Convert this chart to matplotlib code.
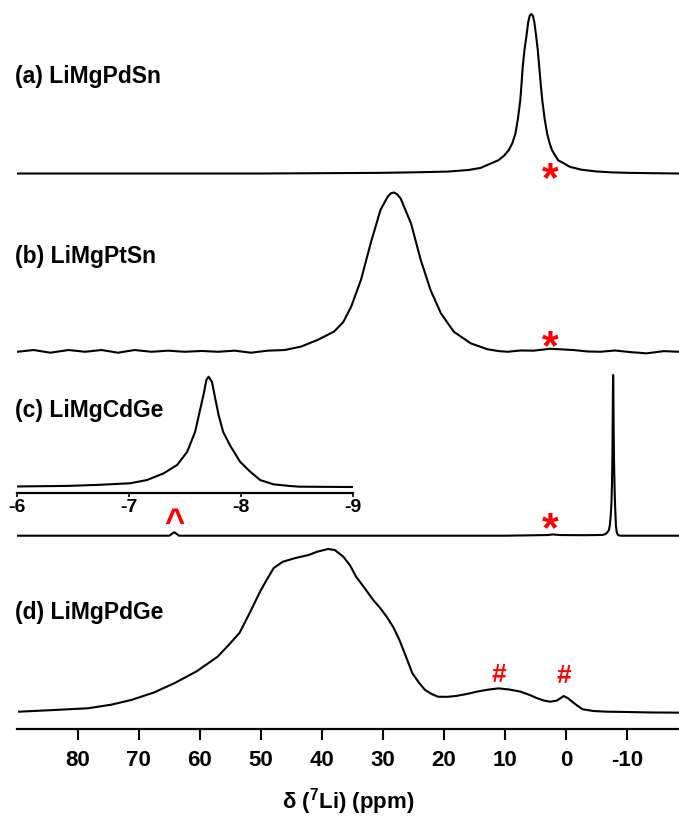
import matplotlib
matplotlib.use("Agg")
from matplotlib import pyplot as plt

# 7Li MAS NMR spectra, intensities normalised to the main peak of each trace
a_ppm = [90, 70, 50, 40, 30.3, 24, 19.4, 16, 14.0, 12.5, 11.1, 10.2, 9.4, 8.8, 8.3, 7.9,
         7.5, 7.3, 7.1, 6.8, 6.5, 6.2, 5.95, 5.7, 5.45, 5.2, 4.9, 4.65, 4.4, 4.15, 3.9,
         3.5, 3.1, 2.7, 2.3, 1.3, 0.2, -0.6, -2.5, -4.9, -7.5, -10.4, -14, -18.5]
a_int = [0, 0, 0, 0.002, 0.004, 0.008, 0.012, 0.022, 0.035, 0.06, 0.083, 0.11, 0.146, 0.19,
         0.25, 0.34, 0.46, 0.56, 0.67, 0.78, 0.86, 0.95, 0.99, 1.0, 0.99, 0.95, 0.86, 0.78,
         0.67, 0.56, 0.46, 0.34, 0.25, 0.19, 0.146, 0.083, 0.06, 0.042, 0.024, 0.013,
         0.007, 0.004, 0.002, 0]

b_ppm = [89.9, 87.2, 84.5, 81.5, 78.8, 76.1, 73.4, 70.7, 67.9, 65.2, 62.5, 59.7, 57.0,
         54.3, 51.6, 48.9, 46.1, 43.4, 40.7, 38.0, 36.5, 35.2, 33.6, 32.0, 30.4, 29.2,
         28.7, 28.2, 27.7, 27.1, 25.4, 23.8, 22.2, 20.5, 18.4, 15.6, 12.9, 11.0, 9.6, 7.5,
         5.3, 2.6, -1.2, -3.5, -5.6, -8.0, -10.5, -13.2, -16.0, -18.5]
b_int = [-0.008, 0.003, -0.014, 0.003, -0.008, 0.003, -0.014, 0.003, -0.008, -0.001,
         -0.008, -0.003, -0.008, -0.001, -0.014, -0.001, 0.003, 0.025, 0.067, 0.12, 0.18,
         0.278, 0.447, 0.68, 0.89, 0.975, 0.995, 1.0, 0.99, 0.962, 0.804, 0.572, 0.382,
         0.235, 0.119, 0.045, 0.008, -0.004, -0.008, 0.0, -0.001, 0.011, 0.003, -0.006,
         -0.008, 0.0, -0.01, -0.018, -0.004, -0.008]

c_ppm = [90, 70, 65.0, 64.2, 63.4, 50, 30, 10, 3, 2.2, 1, -3, -5, -6.0, -6.45, -6.74,
         -7.01, -7.16, -7.31, -7.43, -7.52, -7.59, -7.63, -7.67, -7.69, -7.71, -7.74,
         -7.77, -7.80, -7.84, -7.90, -7.99, -8.08, -8.17, -8.29, -8.44, -8.52, -8.67,
         -9.0, -12, -18.5]
c_int = [0, 0, 0, 0.022, 0, 0, 0, 0, 0.004, 0.008, 0.004, 0.003, 0.004, 0.005, 0.01,
         0.02, 0.034, 0.063, 0.124, 0.20, 0.32, 0.50, 0.68, 0.86, 0.97, 1.0, 0.955, 0.80,
         0.65, 0.50, 0.38, 0.23, 0.14, 0.063, 0.024, 0.009, 0.003, 0.002, 0.0, 0, 0]

d_ppm = [89.6, 84, 78.3, 74.5, 71.2, 67.5, 64.1, 60.5, 57.1, 55.3, 53.5, 51.8, 50.0, 48.9,
         47.9, 46.4, 44.3, 42.2, 40.8, 39.0, 37.9, 36.5, 35.4, 34.4, 33.0, 31.6, 30.5,
         29.4, 28.3, 27.3, 26.2, 25.2, 24.1, 23.1, 22.0, 21.0, 19.5, 18.1, 16.3, 14.6,
         12.8, 11.1, 9.3, 7.5, 6.0, 4.7, 3.6, 2.6, 1.5, 0.4, -0.3, -1.0, -1.8, -2.7,
         -4.5, -6.6, -10, -14, -18.5]
d_int = [0.002, 0.012, 0.023, 0.045, 0.074, 0.12, 0.178, 0.25, 0.339, 0.41, 0.485, 0.61,
         0.748, 0.82, 0.883, 0.922, 0.945, 0.963, 0.983, 1.0, 0.994, 0.953, 0.90, 0.83,
         0.76, 0.687, 0.64, 0.585, 0.52, 0.442, 0.337, 0.239, 0.18, 0.135, 0.11, 0.094,
         0.093, 0.098, 0.11, 0.125, 0.137, 0.145, 0.138, 0.125, 0.105, 0.084, 0.07, 0.063,
         0.07, 0.098, 0.085, 0.063, 0.04, 0.017, 0.006, 0.002, 0.0, -0.003, -0.004]

labels = ["(a) LiMgPdSn", "(b) LiMgPtSn", "(c) LiMgCdGe", "(d) LiMgPdGe"]
x_ticks = [80, 70, 60, 50, 40, 30, 20, 10, 0, -10]
inset_ticks = [-6, -7, -8, -9]

plt.rcParams['font.family'] = ['Liberation Sans', 'DejaVu Sans']
plt.rcParams['font.weight'] = 'bold'
plt.rcParams['mathtext.fontset'] = 'custom'
plt.rcParams['mathtext.rm'] = 'Liberation Sans:bold'
plt.rcParams['mathtext.default'] = 'rm'

W, H = 679, 816
fig = plt.figure(figsize=(W / 100, H / 100), dpi=100)

# main axes, y runs in pixel rows from the top so traces can be stacked
ax_left, ax_bottom = 16.7, 729.3
ax = fig.add_axes([ax_left / W, 1 - ax_bottom / H, (W - ax_left) / W, ax_bottom / H])
ax.set_xlim(90, -18.5)
ax.set_ylim(ax_bottom, 0)
for side in ['top', 'left', 'right']:
    ax.spines[side].set_visible(False)
ax.spines['bottom'].set_linewidth(1.6)
ax.set_yticks([])
ax.set_xticks(x_ticks)
ax.set_xticklabels([str(t) for t in x_ticks], fontsize=16, fontweight='bold')
ax.tick_params(axis='x', direction='out', length=8, width=1.5, pad=7)
ax.set_xlabel(r"δ ($^{7}$Li) (ppm)", fontsize=16, fontweight='bold', labelpad=11)

# baseline row and peak height (pixels) of each trace
traces = [
    (a_ppm, a_int, 173.5, 159.5),
    (b_ppm, b_int, 350.5, 158.0),
    (c_ppm, c_int, 535.7, 160.7),
    (d_ppm, d_int, 712.0, 163.0),
]
for ppm, inten, base, height in traces:
    ax.plot(ppm, [base - height * v for v in inten], color='black', lw=1.5,
            solid_joinstyle='round')

label_rows = [76, 256, 411, 612]
for text, row in zip(labels, label_rows):
    fig.text(15 / W, 1 - row / H, text, fontsize=16.5, fontweight='bold',
             ha='left', va='center')

# impurity / artefact markers
red = '#ff0000'
for row in [180, 348, 530]:
    ax.text(2.6, row, '*', color=red, fontsize=31, fontweight='bold',
            ha='center', va='center')
ax.text(64.2, 524, '^', color=red, fontsize=25, fontweight='bold', ha='center', va='center')
ax.text(11.1, 675, '#', color=red, fontsize=19, fontweight='bold', ha='center', va='center')
ax.text(0.4, 676, '#', color=red, fontsize=19, fontweight='bold', ha='center', va='center')

# inset: expanded view of the LiMgCdGe resonance
in_right, in_bottom, in_top = 353.3, 493.3, 370.0
axi = fig.add_axes([ax_left / W, 1 - in_bottom / H, (in_right - ax_left) / W,
                    (in_bottom - in_top) / H])
axi.set_facecolor('none')
axi.plot(c_ppm, c_int, color='black', lw=1.5, solid_joinstyle='round')
axi.set_xlim(-6, -9)
axi.set_ylim(-0.057, 1.061)
for side in ['top', 'left', 'right']:
    axi.spines[side].set_visible(False)
axi.spines['bottom'].set_linewidth(1.6)
axi.set_yticks([])
axi.set_xticks(inset_ticks)
axi.set_xticklabels([str(t) for t in inset_ticks], fontsize=14, fontweight='bold')
axi.tick_params(axis='x', direction='out', length=3, width=1.2, pad=1)

fig.savefig('out.png', dpi=100)
